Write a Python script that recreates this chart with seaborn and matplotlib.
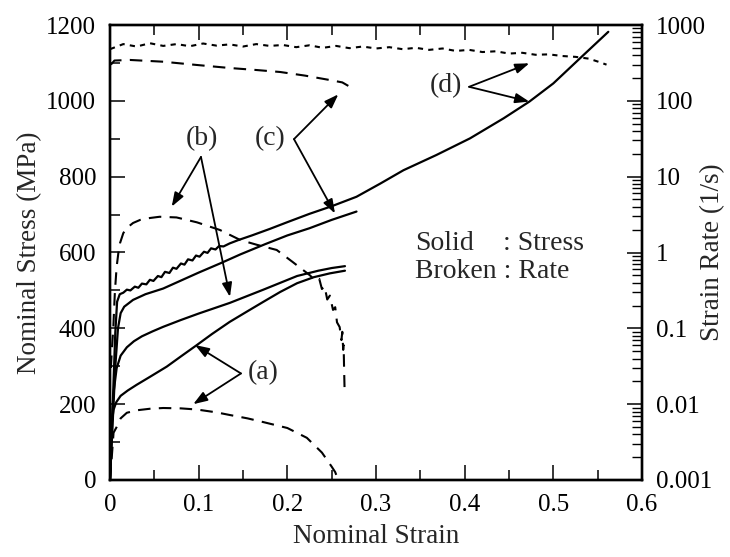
import numpy as np
import pandas as pd
import matplotlib
matplotlib.use("Agg")
import matplotlib.pyplot as plt
import seaborn as sns
from matplotlib.ticker import MultipleLocator, LogLocator, FixedLocator, FixedFormatter, NullFormatter

# ---------------- data ----------------
# stress curves (solid)
a_strain = [0, 0.001, 0.002, 0.004, 0.007, 0.012, 0.02, 0.03, 0.045, 0.064, 0.08, 0.098, 0.115, 0.135,
            0.155, 0.173, 0.192, 0.211, 0.23, 0.248, 0.265]
a_stress = [0, 90, 150, 185, 205, 222, 236, 251, 272, 299, 326, 356, 385, 417,
            445, 470, 496, 519, 535, 545, 552]

b_strain = [0, 0.002, 0.004, 0.0075, 0.012, 0.019, 0.027, 0.036, 0.048, 0.06, 0.08, 0.1, 0.135, 0.173,
            0.211, 0.235, 0.25, 0.265]
b_stress = [0, 150, 230, 295, 328, 350, 366, 379, 392, 404, 422, 439, 467, 502,
            538, 552, 559, 564]

c_strain = [0, 0.003, 0.006, 0.009, 0.012, 0.016, 0.026, 0.04, 0.06, 0.08, 0.1, 0.125, 0.147, 0.175,
            0.2, 0.225, 0.25, 0.278]
c_stress = [0, 150, 300, 400, 440, 457, 475, 490, 505, 526, 547, 572, 595, 622,
            645, 664, 686, 708]

d_strain = [0, 0.002, 0.004, 0.006, 0.008, 0.011, 0.015, 0.019, 0.023, 0.028, 0.032, 0.036, 0.041,
            0.045, 0.049, 0.054, 0.058, 0.062, 0.067, 0.071, 0.075, 0.080, 0.084, 0.088, 0.093,
            0.097, 0.101, 0.106, 0.110, 0.114, 0.119, 0.123, 0.128, 0.135, 0.145, 0.16, 0.18,
            0.20, 0.225, 0.25, 0.278, 0.305, 0.331, 0.368, 0.406, 0.444, 0.473, 0.50, 0.53, 0.562]
d_stress = [0, 120, 260, 390, 470, 490, 494, 502, 500, 510, 507, 518, 516,
            528, 525, 538, 535, 549, 546, 560, 557, 571, 568, 582, 579,
            592, 589, 602, 599, 611, 608, 617, 616, 624, 633, 645, 662,
            680, 702, 722, 747, 782, 817, 857, 901, 954, 998, 1046, 1112, 1182]

# strain-rate curves (broken)
a_rate_strain = [0, 0.002, 0.004, 0.0075, 0.012, 0.019, 0.03, 0.045, 0.06, 0.08, 0.098, 0.12, 0.135,
                 0.155, 0.173, 0.2, 0.222, 0.239, 0.25, 0.254, 0.256]
a_rate = [0.001, 0.002, 0.0042, 0.005, 0.0065, 0.0077, 0.0083, 0.0087, 0.0089, 0.0088, 0.0085, 0.0078,
          0.0072, 0.0065, 0.0058, 0.00485, 0.0036, 0.0023, 0.0015, 0.00127, 0.0011]

b_rate_strain = [0.001, 0.002, 0.0037, 0.0055, 0.0075, 0.0095, 0.0113, 0.015, 0.0188, 0.026, 0.034,
                 0.045, 0.056, 0.075, 0.098, 0.124, 0.147, 0.166, 0.188, 0.206, 0.2255, 0.232, 0.236,
                 0.239, 0.242, 0.245, 0.248, 0.2515, 0.254, 0.256, 0.259, 0.261, 0.262, 0.263, 0.2635,
                 0.264, 0.2645]
b_rate = [0.03, 0.05, 0.1, 0.3, 0.65, 1.0, 1.33, 1.8, 2.1, 2.45, 2.69,
          2.85, 2.96, 2.9, 2.5, 1.98, 1.46, 1.26, 1.08, 0.75, 0.5, 0.42, 0.45,
          0.33, 0.36, 0.24, 0.27, 0.175, 0.19, 0.12, 0.104, 0.07, 0.09, 0.052, 0.06,
          0.03, 0.0168]

c_rate_strain = [0.001, 0.005, 0.0226, 0.06, 0.098, 0.135, 0.165, 0.192, 0.22, 0.248, 0.262, 0.271]
c_rate = [300, 340, 346, 328, 297, 271, 255, 240, 215, 188, 175, 152]

d_rate_strain = [0.0, 0.015, 0.03, 0.045, 0.06, 0.075, 0.09, 0.105, 0.12, 0.135, 0.15, 0.165, 0.18,
                 0.195, 0.21, 0.225, 0.24, 0.255, 0.27, 0.285, 0.3, 0.315, 0.33, 0.345, 0.36, 0.375,
                 0.39, 0.405, 0.42, 0.435, 0.45, 0.465, 0.48, 0.495, 0.51, 0.525, 0.54, 0.55, 0.56]
d_rate = [480, 560, 520, 575, 530, 560, 525, 570, 535, 555, 520, 560, 530,
          545, 510, 540, 500, 530, 495, 520, 490, 510, 480, 500, 470, 490,
          455, 470, 440, 450, 420, 430, 405, 410, 390, 380, 360, 330, 300]

x_ticks = [0, 0.1, 0.2, 0.3, 0.4, 0.5, 0.6]
x_tick_labels = ["0", "0.1", "0.2", "0.3", "0.4", "0.5", "0.6"]
y_ticks = [0, 200, 400, 600, 800, 1000, 1200]
y_tick_labels = ["0", "200", "400", "600", "800", "1000", "1200"]
r_ticks = [0.001, 0.01, 0.1, 1, 10, 100, 1000]
r_tick_labels = ["0.001", "0.01", "0.1", "1", "10", "100", "1000"]

# ---------------- style ----------------
sns.set_theme(style="ticks")
plt.rcParams['font.family'] = ['Liberation Serif', 'DejaVu Serif']
FS_TICK = 18
FS_LAB = 19.5
FS_TXT = 20

fig = plt.figure(figsize=(7.30, 5.57), dpi=100)
ax = fig.add_axes([110/730, 77/557, 532/730, 455/557])
ax2 = ax.twinx()

solid_kw = dict(color="black", lw=1.6, estimator=None, sort=False, legend=False)
dash_kw = dict(color="black", lw=1.5, estimator=None, sort=False, legend=False)

for xs, ys in [(a_strain, a_stress), (b_strain, b_stress), (c_strain, c_stress), (d_strain, d_stress)]:
    sns.lineplot(x=xs, y=ys, ax=ax, **solid_kw)

for xs, ys in [(a_rate_strain, a_rate), (b_rate_strain, b_rate), (c_rate_strain, c_rate)]:
    sns.lineplot(x=xs, y=ys, ax=ax2, linestyle=(0, (6, 4)), **dash_kw)
sns.lineplot(x=d_rate_strain, y=d_rate, ax=ax2, linestyle=(0, (2.5, 2.5)), **dash_kw)

# ---------------- axes ----------------
ax.set_xlim(0, 0.6)
ax.set_ylim(0, 1200)
ax2.set_yscale("log")
ax2.set_ylim(0.001, 1000)

ax.xaxis.set_major_locator(FixedLocator(x_ticks))
ax.xaxis.set_major_formatter(FixedFormatter(x_tick_labels))
ax.xaxis.set_minor_locator(MultipleLocator(0.05))
ax.yaxis.set_major_locator(FixedLocator(y_ticks))
ax.yaxis.set_major_formatter(FixedFormatter(y_tick_labels))
ax.yaxis.set_minor_locator(MultipleLocator(100))
ax2.yaxis.set_major_locator(FixedLocator(r_ticks))
ax2.yaxis.set_major_formatter(FixedFormatter(r_tick_labels))
ax2.yaxis.set_minor_locator(LogLocator(base=10, subs=np.arange(2, 10), numticks=20))
ax2.yaxis.set_minor_formatter(NullFormatter())

for a in (ax, ax2):
    for s in a.spines.values():
        s.set_linewidth(1.7)
        s.set_color("black")

ax.tick_params(which="both", direction="in", top=True, right=False, colors="black",
               labelsize=FS_TICK, pad=10)
ax.tick_params(which="major", length=10.5, width=1.1)
ax.tick_params(which="minor", length=7.5, width=1.1)
ax2.tick_params(which="both", direction="in", left=False, right=True, colors="black",
                labelsize=FS_TICK, pad=10)
ax2.tick_params(which="major", length=10.5, width=1.1)
ax2.tick_params(which="minor", length=7.5, width=1.0)

ax.set_xlabel("Nominal Strain", fontsize=FS_LAB)
ax.set_ylabel("Nominal Stress (MPa)", fontsize=FS_LAB)
ax2.set_ylabel("Strain Rate (1/s)", fontsize=FS_LAB)
ax.xaxis.set_label_coords(0.5, -0.097)
ax.yaxis.set_label_coords(-0.128, 0.5)
ax2.yaxis.set_label_coords(1.109, 0.5)

# ---------------- annotations ----------------
arrow = dict(arrowstyle="-|>,head_length=0.7,head_width=0.25", color="black", lw=1.3,
             shrinkA=0, shrinkB=0)

def label_with_arrows(text, tpos, start, tips):
    ax.text(tpos[0], tpos[1], text, fontsize=FS_TXT, ha="center", va="center")
    for tip in tips:
        ax.annotate("", xy=tip, xytext=start, arrowprops=arrow)

label_with_arrows("(b)", (0.1034, 900), (0.1026, 852), [(0.0696, 721), (0.1353, 483)])
label_with_arrows("(c)", (0.1804, 900), (0.2075, 899), [(0.2575, 1017), (0.2537, 703)])
label_with_arrows("(d)", (0.379, 1040), (0.405, 1037), [(0.4729, 1099), (0.4729, 998)])
label_with_arrows("(a)", (0.1729, 284), (0.1477, 281), [(0.0959, 356), (0.0939, 200)])

ax.text(0.344, 625, "Solid", fontsize=FS_TXT, ha="left", va="center")
ax.text(0.443, 625, ": Stress", fontsize=FS_TXT, ha="left", va="center")
ax.text(0.344, 549, "Broken : Rate", fontsize=FS_TXT, ha="left", va="center")

fig.savefig("out.png", dpi=100)
